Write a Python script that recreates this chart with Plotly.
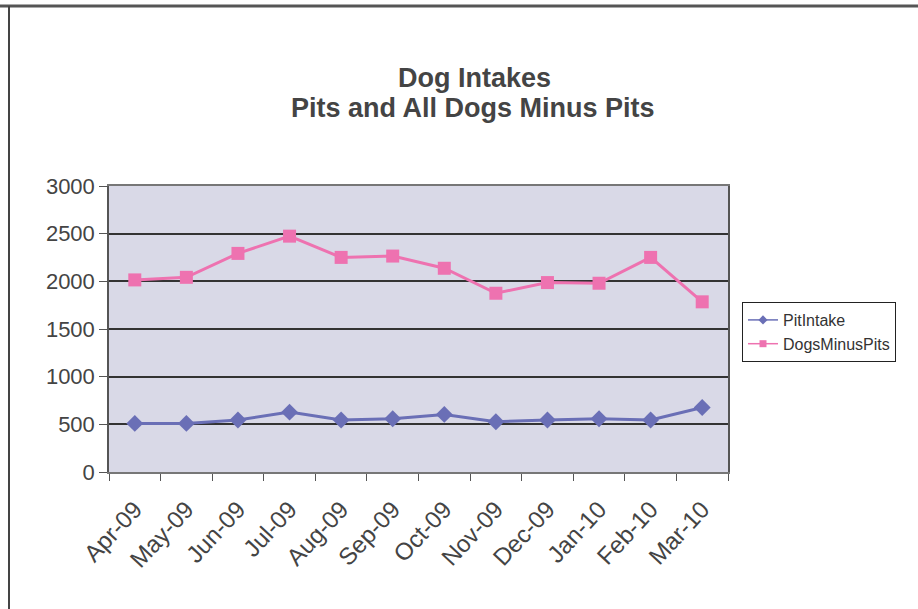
import plotly.graph_objects as go

months = ["Apr-09", "May-09", "Jun-09", "Jul-09", "Aug-09", "Sep-09",
          "Oct-09", "Nov-09", "Dec-09", "Jan-10", "Feb-10", "Mar-10"]
pit_intake = [510, 510, 545, 628, 545, 559, 604, 527, 545, 559, 545, 677]
dogs_minus_pits = [2015, 2042, 2293, 2474, 2251, 2265, 2137, 1875, 1987, 1980, 2251, 1785]
y_ticks = [0, 500, 1000, 1500, 2000, 2500, 3000]

W, H = 918, 609
L, R, T, B = 109, 190, 186, 137
pw, ph = W - L - R, H - T - B

def px(x):
    return (x - L) / pw

def py(y):
    return 1 - (y - T) / ph

BLUE = "#6A6FB6"
PINK = "#EE72B0"

fig = go.Figure()
fig.add_trace(go.Scatter(
    x=months, y=pit_intake, name="PitIntake", mode="lines+markers",
    line=dict(color=BLUE, width=3), showlegend=False, legendgroup="a",
    marker=dict(symbol="diamond", size=13, color=BLUE),
))
fig.add_trace(go.Scatter(
    x=months, y=dogs_minus_pits, name="DogsMinusPits", mode="lines+markers",
    line=dict(color=PINK, width=3), showlegend=False, legendgroup="b",
    marker=dict(symbol="square", size=13, color=PINK),
))
# legend entries (smaller symbols as in the reference legend)
fig.add_trace(go.Scatter(
    x=[None], y=[None], name="PitIntake", mode="lines+markers", legendgroup="a",
    line=dict(color=BLUE, width=1.5), marker=dict(symbol="diamond", size=7, color=BLUE),
))
fig.add_trace(go.Scatter(
    x=[None], y=[None], name="DogsMinusPits", mode="lines+markers", legendgroup="b",
    line=dict(color=PINK, width=1.5), marker=dict(symbol="square", size=7, color=PINK),
))

font_family = "Liberation Sans, Arial, sans-serif"

fig.update_layout(
    width=W, height=H,
    margin=dict(l=L, r=R, t=T, b=B, autoexpand=False),
    paper_bgcolor="white",
    plot_bgcolor="#D9D9E7",
    font=dict(family=font_family, color="#444444"),
    showlegend=True,
    legend=dict(
        x=px(742), y=py(302), xref="paper", yref="paper",
        xanchor="left", yanchor="top",
        bordercolor="#222222", borderwidth=1, bgcolor="white",
        font=dict(size=16, family="Liberation Sans Narrow, Liberation Sans, Arial", color="#333333"),
        itemwidth=30, tracegroupgap=0,
    ),
    xaxis=dict(
        type="category", tickangle=-47, tickson="boundaries",
        ticks="outside", ticklen=7, tickcolor="#555555",
        showline=True, linecolor="#777777", linewidth=1.5, mirror=True,
        showgrid=False, tickfont=dict(size=24, color="#444444"),
        ticklabelstandoff=12,
        range=[-0.5, 11.5],
    ),
    yaxis=dict(
        range=[0, 3000], tickvals=y_ticks, ticks="outside", ticklen=8,
        tickcolor="#555555", showline=True, linecolor="#555555", linewidth=1.5,
        mirror=True, gridcolor="#333333", gridwidth=1.5,
        tickfont=dict(size=22, color="#444444"), zeroline=False,
    ),
    annotations=[
        dict(text="<b>Dog Intakes</b>", x=px(474), y=py(78), xref="paper", yref="paper",
             showarrow=False, font=dict(size=27, color="#444444", family=font_family),
             xanchor="center", yanchor="middle"),
        dict(text="<b>Pits and All Dogs Minus Pits</b>", x=px(473), y=py(108), xref="paper", yref="paper",
             showarrow=False, font=dict(size=27, color="#444444", family=font_family),
             xanchor="center", yanchor="middle"),
    ],
    shapes=[
        dict(type="line", xref="paper", yref="paper", x0=px(0), x1=px(918), y0=py(6), y1=py(6),
             line=dict(color="#555555", width=3)),
        dict(type="line", xref="paper", yref="paper", x0=px(9), x1=px(9), y0=py(6), y1=py(609),
             line=dict(color="#444444", width=2)),
    ],
)

fig.write_html("out.html", config={"displayModeBar": False},
               post_script="document.body.style.margin='0';")
